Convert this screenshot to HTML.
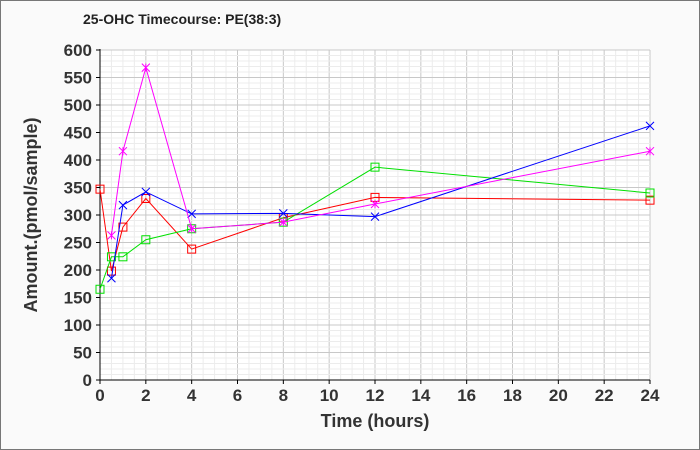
<!DOCTYPE html><html><head><style>body{margin:0}svg{display:block}</style></head><body>
<svg id="s" width="700" height="450" xmlns="http://www.w3.org/2000/svg" font-family="Liberation Sans, sans-serif"></svg>
<script>
const s=document.getElementById('s');let h='';
const X=t=>100+t*550/24, Y=v=>380-v*0.55;
h+='<rect x="0.5" y="0.5" width="699" height="449" fill="#fafafa" stroke="#777"/>';
h+='<rect x="100" y="50" width="550" height="330" fill="#fff"/>';
for(let t=0;t<=24;t+=0.5){const x=X(t);h+=`<line x1="${x}" y1="50" x2="${x}" y2="380" stroke="${t%2==0?'#c8c8c8':'#ececec'}"/>`}
for(let v=0;v<=600;v+=10){const y=Y(v);h+=`<line x1="100" y1="${y}" x2="650" y2="${y}" stroke="${v%50==0?'#c8c8c8':'#ececec'}"/>`}
h+='<line x1="100" y1="49" x2="100" y2="381" stroke="#000"/><line x1="99" y1="380" x2="650" y2="380" stroke="#000"/>';
for(let v=0;v<=600;v+=50){const y=Y(v);h+=`<line x1="96" y1="${y}" x2="100" y2="${y}" stroke="#000"/><text x="92" y="${y+6}" text-anchor="end" font-size="17" font-weight="bold" fill="#333">${v}</text>`}
for(let t=0;t<=24;t+=2){const x=X(t);h+=`<line x1="${x}" y1="380" x2="${x}" y2="384" stroke="#000"/><text x="${x}" y="401" text-anchor="middle" font-size="17" font-weight="bold" fill="#333">${t}</text>`}
h+='<text x="83" y="24" font-size="14" font-weight="bold" fill="#222">25-OHC Timecourse: PE(38:3)</text>';
h+='<text x="375" y="427" text-anchor="middle" font-size="18" font-weight="bold" fill="#333">Time (hours)</text>';
h+='<text transform="translate(37,215) rotate(-90)" text-anchor="middle" font-size="18" font-weight="bold" fill="#333">Amount.(pmol/sample)</text>';
const S=[
['#ff0000','sq',[[0,347],[0.5,198],[1,278],[2,330],[4,238],[8,295],[12,332],[24,327]]],
['#00e000','sq',[[0,165],[0.5,224],[1,224],[2,255],[4,275],[8,287],[12,387],[24,340]]],
['#0000ff','x',[[0.5,185],[1,318],[2,342],[4,302],[8,303],[12,297],[24,462]]],
['#ff00ff','st',[[0.5,263],[1,416],[2,568],[4,275],[8,287],[12,320],[24,416]]]];
for(const [c,m,d] of S){h+=`<polyline fill="none" stroke="${c}" points="${d.map(p=>X(p[0])+','+Y(p[1])).join(' ')}"/>`;
for(const p of d){const x=X(p[0]),y=Y(p[1]);
if(m=='sq')h+=`<rect x="${x-4}" y="${y-4}" width="8" height="8" fill="none" stroke="${c}"/>`;
else{h+=`<path d="M${x-4} ${y-4}L${x+4} ${y+4}M${x-4} ${y+4}L${x+4} ${y-4}${m=='st'?`M${x} ${y-4}L${x} ${y+4}`:''}" stroke="${c}"/>`}}}
s.innerHTML=h;
</script></body></html>
